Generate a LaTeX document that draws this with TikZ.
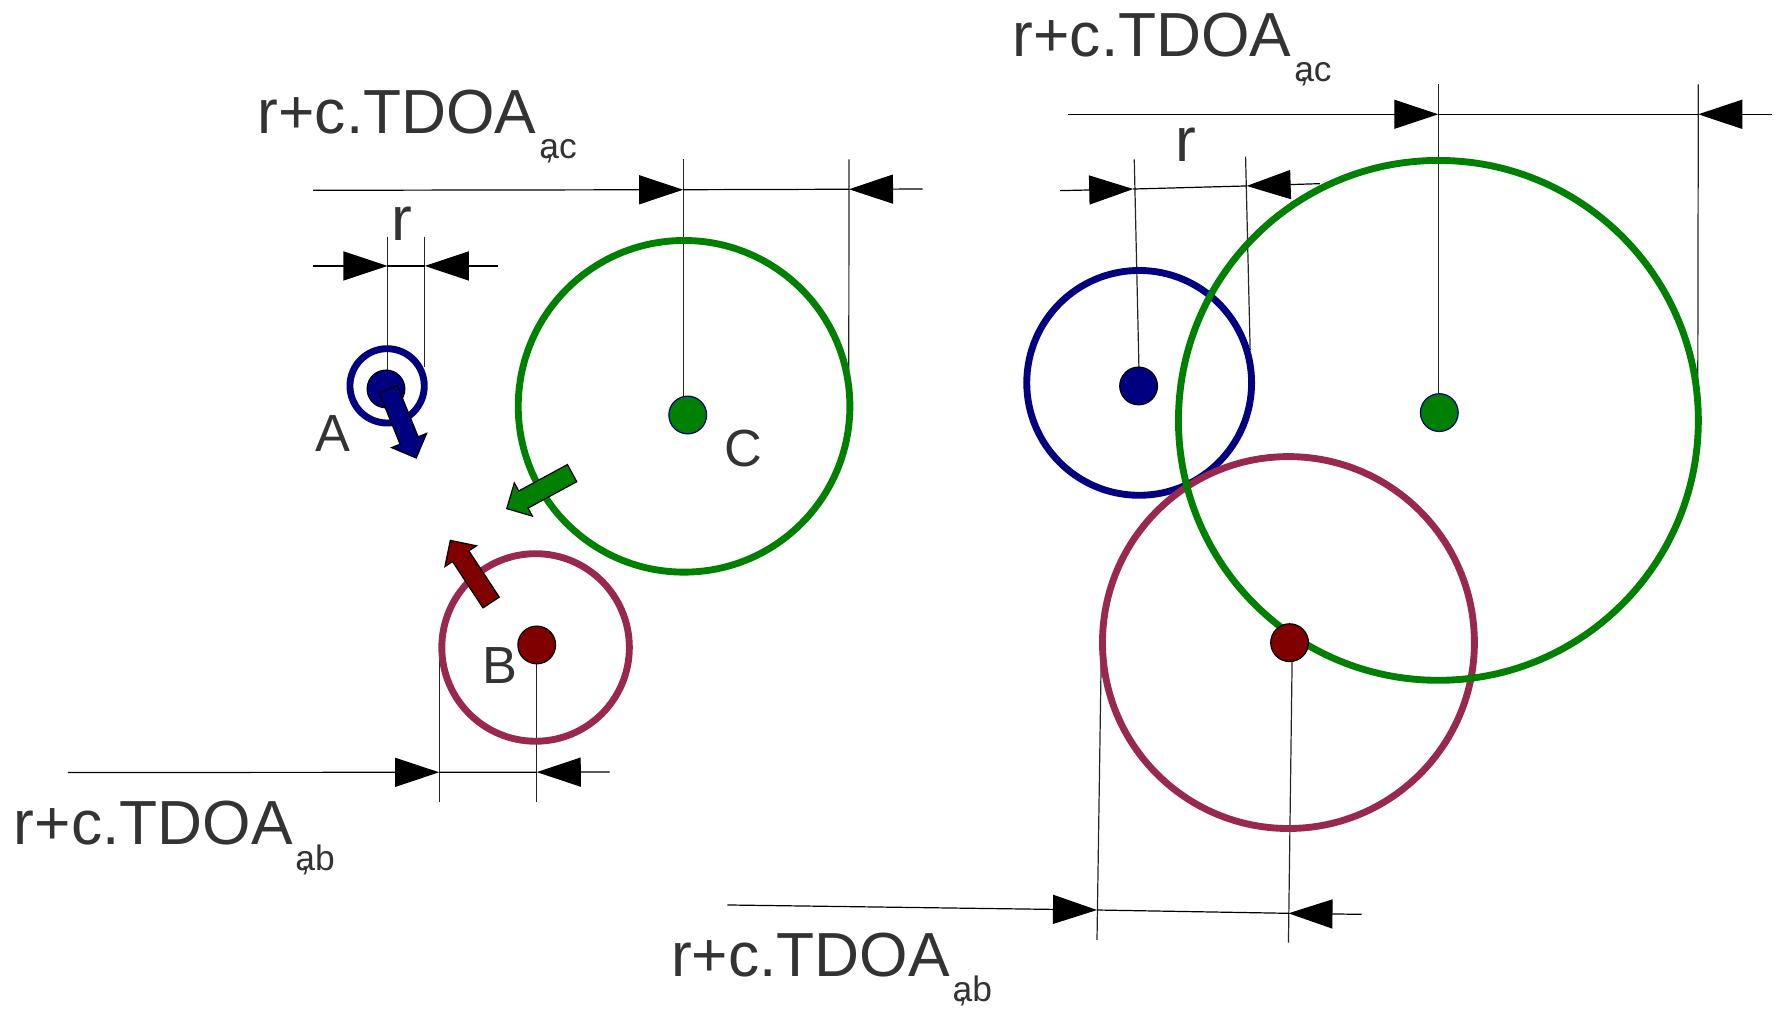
\documentclass[tikz,border=0pt]{standalone}
\usepackage{fontspec}
\setmainfont{Liberation Sans}
\usetikzlibrary{arrows.meta,shapes.arrows}
\definecolor{labelgray}{HTML}{333333}
\definecolor{navyA}{HTML}{000080}
\definecolor{greenC}{HTML}{008000}
\definecolor{ringB}{RGB}{153,40,80}
\definecolor{darkB}{HTML}{800000}
\newcommand{\tdoa}[1]{r+c.TDOA\kern0.025cm\raisebox{-0.22cm}{\fontsize{8.8pt}{10pt}\selectfont a\llap{,\kern0.14em}#1}}
\begin{document}
\begin{tikzpicture}[x=0.01cm,y=-0.01cm,
  ring/.style={line width=0.06cm},
  dimline/.style={line width=0.3pt},
  dimtip/.style={line width=0.3pt,-{Triangle[length=0.385cm,width=0.254cm]}},
  extline/.style={line width=0.3pt,black!85},
  dot/.style={circle,draw=black,line width=0.3pt,minimum size=0.33cm,inner sep=0pt},
  blockarrow/.style={single arrow,draw=black,line width=0.3pt,inner xsep=0pt,inner ysep=0.08cm,single arrow head extend=0.08cm,minimum height=0.65cm,anchor=tail},
  lbl/.style={text=labelgray,inner sep=0pt,font=\fontsize{15.5pt}{18pt}\selectfont},
  pointlbl/.style={text=labelgray,inner sep=0pt,anchor=base,font=\fontsize{13pt}{15pt}\selectfont}]
\useasboundingbox (0,0) rectangle (1560,885.4);
\begin{scope}
\coordinate (A) at (338.7,337.6);
\coordinate (B) at (468.6,566.5);
\coordinate (C) at (598.5,355.5);
\foreach \s/\t in {{597.7,139.5}/{597.7,367},{742.8,139.4}/{742.6,366},{339,207}/{339,340},{371.7,207}/{371.7,321},{384.2,564.9}/{384.2,701.4},{469.6,564.3}/{469.6,701.4}} \draw[extline] (\s) -- (\t);
\foreach \s/\p/\q/\e in {{274,166.5}/{597.7,166}/{742.8,165.6}/{807.2,165.4},{273.7,232.7}/{339,232.7}/{371.7,232.7}/{436,232.7},{59.3,675.9}/{384.2,675.7}/{469.6,675.6}/{533.4,675.5}}
  {\draw[dimtip] (\s) -- (\p); \draw[dimline] (\p) -- (\q); \draw[dimtip] (\e) -- (\q);}
\draw[ring,greenC] (C) circle[radius=1.45cm];
\draw[ring,ringB] (B) circle[radius=0.82cm];
\draw[ring,navyA] (A) circle[radius=0.325cm];
\node[dot,fill=navyA] (Adot) at (337.7,340.3) {};
\node[dot,fill=greenC,draw=navyA] (Cdot) at (601.7,363.1) {};
\node[dot,fill=darkB] (Bdot) at (469.6,564.3) {};
\node[blockarrow,fill=navyA,rotate=-67.9] (Amove) at (339.5,340) {};
\node[blockarrow,fill=greenC,rotate=208.5] (Cmove) at (501,413.7) {};
\node[blockarrow,fill=darkB,rotate=123.3] (Bmove) at (430,527.6) {};
\node[lbl,anchor=base west] (acLeft) at (224.9,116.7) {\tdoa{c}};
\node[lbl,anchor=base] (rLeft) at (352,210) {r};
\node[lbl,anchor=base west] (abLeft) at (11.5,739.3) {\tdoa{b}};
\node[pointlbl] (Alabel) at (291,395.2) {A};
\node[pointlbl] (Blabel) at (437.5,597.8) {B};
\node[pointlbl] (Clabel) at (650.4,408.3) {C};
\end{scope}
\begin{scope}
\coordinate (A2) at (996.7,335);
\coordinate (B2) at (1127.3,562.2);
\coordinate (C2) at (1258.5,367.8);
\foreach \s/\t in {{1258.4,73.8}/{1258.4,367.5},{1485.9,73.8}/{1485.4,367},{992.4,139.4}/{996.8,335.4},{1089.8,137.1}/{1093.8,306.2},{963.8,552.6}/{959.8,822.4},{1130.8,555.6}/{1127.3,824.7}} \draw[extline] (\s) -- (\t);
\foreach \s/\p/\q/\e in {{934.2,100}/{1258.4,100}/{1485.9,100}/{1550,100},{927.4,166.8}/{991.5,165.4}/{1090.7,162.7}/{1154.8,160.7},{636.3,791.8}/{959.8,796.2}/{1127.3,799.1}/{1191.3,800}}
  {\draw[dimtip] (\s) -- (\p); \draw[dimline] (\p) -- (\q); \draw[dimtip] (\e) -- (\q);}
\draw[ring,navyA] (A2) circle[radius=0.983cm];
\draw[ring,ringB] (B2) circle[radius=1.626cm];
\draw[ring,greenC] (C2) circle[radius=2.273cm];
\node[dot,fill=navyA] (A2dot) at (996.2,337.7) {};
\node[dot,fill=greenC,draw=navyA] (C2dot) at (1259.3,361) {};
\node[dot,fill=darkB] (B2dot) at (1128.3,562.3) {};
\node[lbl,anchor=base west] (acRight) at (885.4,49.6) {\tdoa{c}};
\node[lbl,anchor=base] (rRight) at (1037.6,141.5) {r};
\node[lbl,anchor=base west] (abRight) at (586.5,854.5) {\tdoa{b}};
\end{scope}
\end{tikzpicture}
\end{document}
